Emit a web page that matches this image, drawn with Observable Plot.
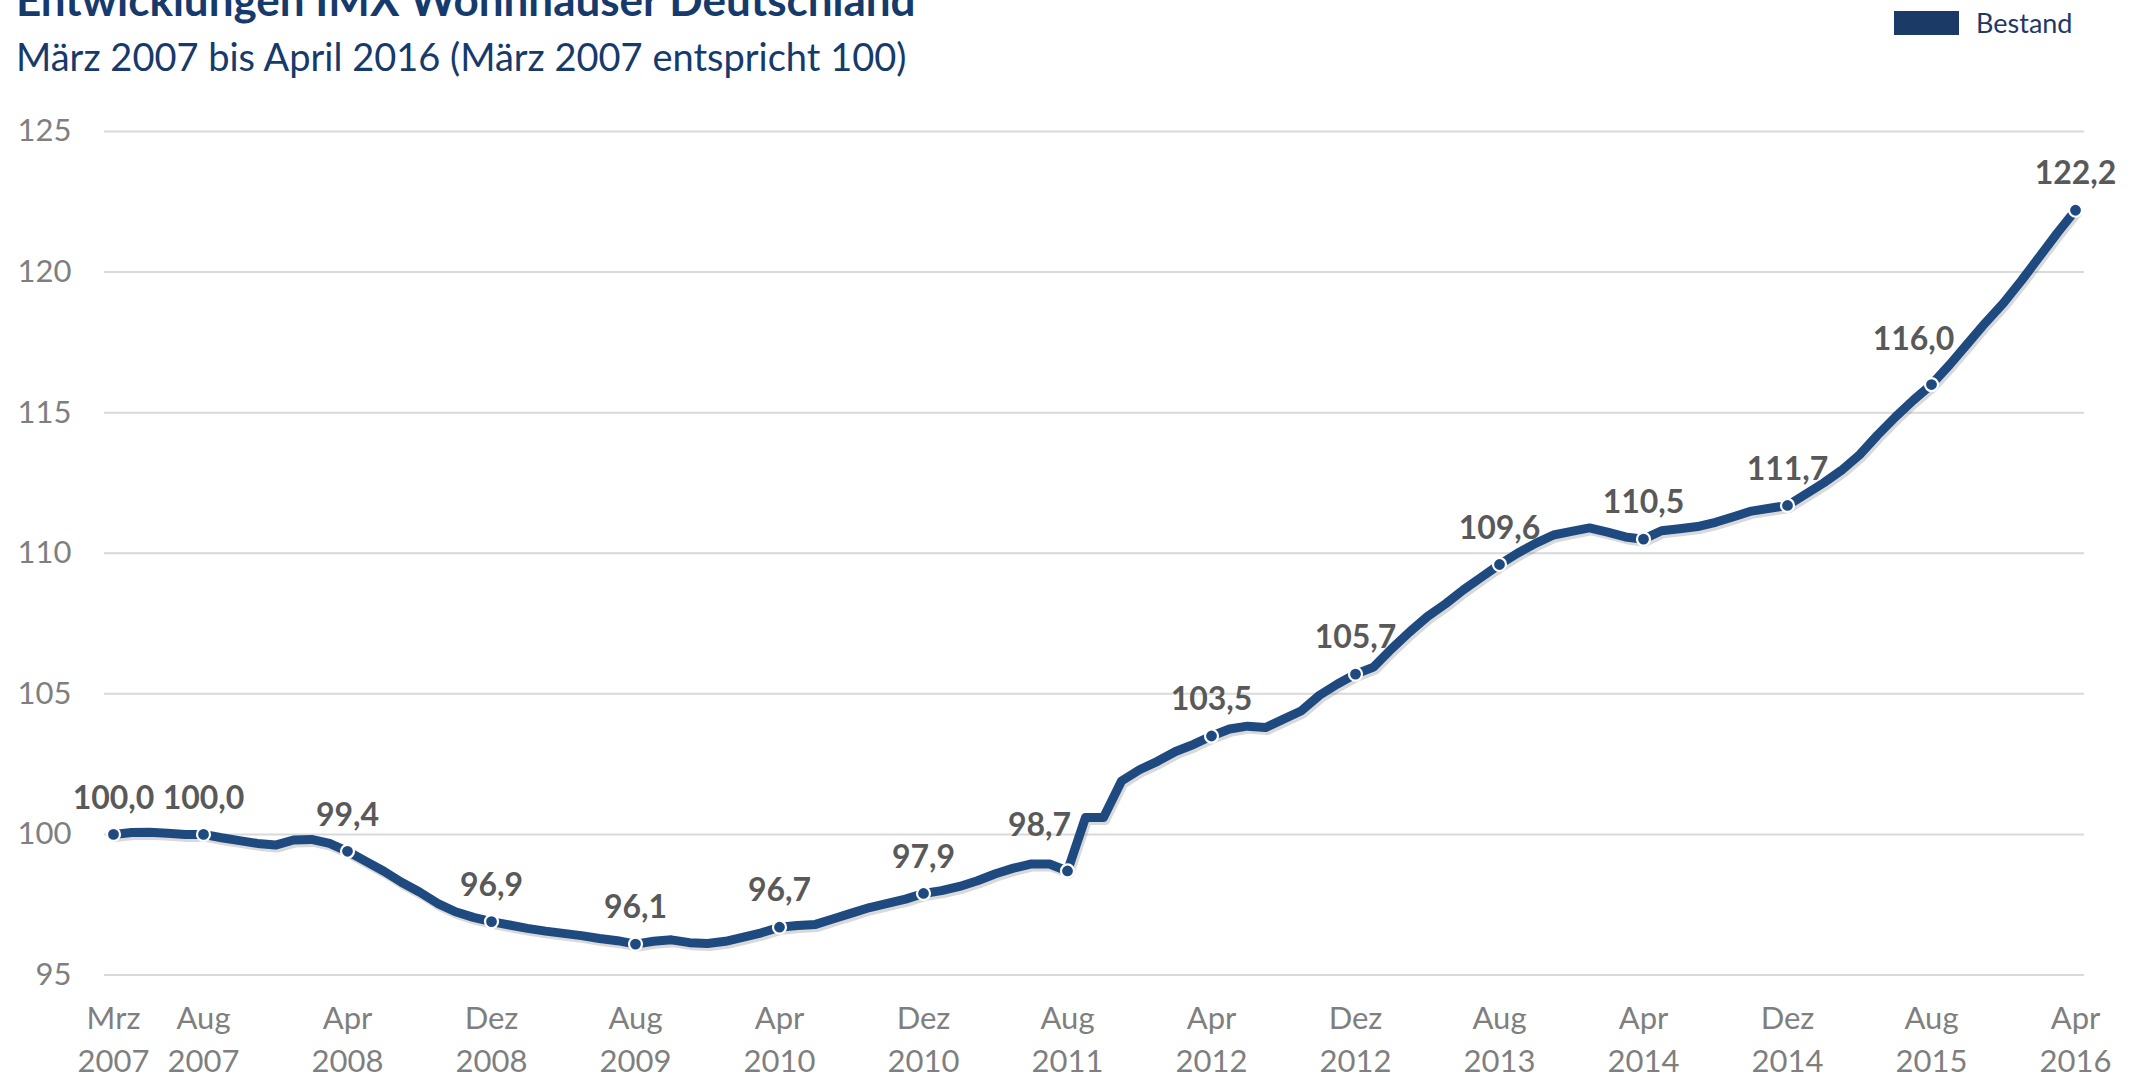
<!DOCTYPE html>
<html>
<head>
<meta charset="utf-8">
<script src="https://cdn.jsdelivr.net/npm/d3@7"></script>
<script src="https://cdn.jsdelivr.net/npm/@observablehq/plot@0.6"></script>
<style>
  html, body { margin: 0; padding: 0; background: #ffffff; }
  body { position: relative; width: 2134px; height: 1081px; overflow: hidden; font-family: Lato, "Open Sans", sans-serif; }
  #title { position: absolute; left: 16px; top: -23px; font-size: 44px; line-height: 44px; font-weight: 700; color: #163a6b; white-space: nowrap; }
  #subtitle { position: absolute; left: 16px; top: 34px; font-size: 38px; line-height: 44px; color: #163a6b; white-space: nowrap; }
  #legend { position: absolute; left: 1894px; top: 9px; display: flex; align-items: center; }
  #legend .sw { width: 65px; height: 24px; background: #1b3a66; }
  #legend .lb { margin-left: 17px; font-size: 27px; line-height: 27px; color: #1f3864; }
  #chart { position: absolute; left: 0; top: 90px; }
</style>
</head>
<body>
<div id="title">Entwicklungen IMX Wohnhäuser Deutschland</div>
<div id="subtitle">März 2007 bis April 2016 (März 2007 entspricht 100)</div>
<div id="legend"><div class="sw"></div><div class="lb">Bestand</div></div>
<div id="chart"></div>
<script>
// Series: monthly index values, März 2007 (index 0) … April 2016 (index 109)
const seriesName = "Bestand";
const monthNames = ["Jan","Feb","Mrz","Apr","Mai","Jun","Jul","Aug","Sep","Okt","Nov","Dez"];
const startYear = 2007;
const startMonth = 2; // März
const values = [
  100.0, 100.07, 100.08, 100.04, 100.0, 100.0, 99.88, 99.78, 99.68, 99.62,   // 0-9
  99.8, 99.82, 99.68, 99.4, 99.05, 98.7, 98.3, 97.95, 97.55, 97.25,          // 10-19
  97.05, 96.9, 96.78, 96.66, 96.56, 96.48, 96.4, 96.3, 96.22, 96.1,          // 20-29
  96.2, 96.25, 96.15, 96.12, 96.2, 96.35, 96.5, 96.7, 96.76, 96.8,           // 30-39
  97.0, 97.2, 97.4, 97.55, 97.7, 97.9, 98.0, 98.15, 98.35, 98.6,             // 40-49
  98.8, 98.95, 98.95, 98.7, 100.6, 100.6, 101.9, 102.3, 102.6, 102.95,       // 50-59
  103.2, 103.5, 103.75, 103.85, 103.8, 104.1, 104.4, 104.95, 105.35, 105.7,  // 60-69
  105.95, 106.6, 107.2, 107.75, 108.2, 108.7, 109.15, 109.6, 110.0, 110.35,  // 70-79
  110.65, 110.78, 110.9, 110.75, 110.58, 110.5, 110.8, 110.87, 110.95, 111.1, // 80-89
  111.3, 111.5, 111.6, 111.7, 112.1, 112.5, 112.95, 113.5, 114.2, 114.85,    // 90-99
  115.45, 116.0, 116.7, 117.45, 118.2, 118.9, 119.7, 120.55, 121.4, 122.2    // 100-109
];
// Labelled months (also the x-axis categories)
const labelledMonths = [0, 5, 13, 21, 29, 37, 45, 53, 61, 69, 77, 85, 93, 101, 109];
const yTicks = [95, 100, 105, 110, 115, 120, 125];

const monthLabel = i => {
  const m = (startMonth + i) % 12;
  const y = startYear + Math.floor((startMonth + i) / 12);
  return monthNames[m] + "\n" + y;
};
const fmt = v => v.toFixed(1).replace(".", ",");

const data = values.map((v, i) => ({i, v}));
const points = labelledMonths.map(i => ({i, v: values[i], label: fmt(values[i])}));
// two labels nudged left in the original to clear the line
const nudged = new Set([53, 101]);

const navy = "#1f4a80";
const chart = Plot.plot({
  width: 2134,
  height: 991,
  marginTop: 41,
  marginBottom: 106.5,
  marginLeft: 104,
  marginRight: 50,
  style: {fontFamily: "Lato, 'Open Sans', sans-serif", background: "transparent", overflow: "visible"},
  x: {type: "linear", domain: [-0.5, values.length - 0.5], axis: null},
  y: {domain: [95, 125], axis: null},
  marks: [
    Plot.gridY(yTicks, {stroke: "#d9d9d9", strokeOpacity: 1, strokeWidth: 2}),
    Plot.axisY(yTicks, {tickSize: 0, tickPadding: 33, fontSize: 31, color: "#7f7f7f", label: null}),
    Plot.axisX(labelledMonths, {tickSize: 0, tickPadding: 23, fontSize: 31, color: "#7f7f7f", lineHeight: 1.4, tickFormat: monthLabel, label: null}),
    Plot.line(data, {x: "i", y: "v", stroke: "#808080", strokeOpacity: 0.3, strokeWidth: 9, dx: 2, dy: 3, strokeLinejoin: "round", strokeLinecap: "round"}),
    Plot.line(data, {x: "i", y: "v", stroke: navy, strokeWidth: 9, strokeLinejoin: "round", strokeLinecap: "round"}),
    Plot.dot(points, {x: "i", y: "v", r: 6.5, fill: navy, stroke: "white", strokeWidth: 2.2}),
    Plot.text(points.filter(d => !nudged.has(d.i)), {x: "i", y: "v", text: "label", dy: -36, fontSize: 32, fontWeight: 700, fill: "#595959"}),
    Plot.text(points.filter(d => d.i === 53), {x: "i", y: "v", text: "label", dx: -28, dy: -45, fontSize: 32, fontWeight: 700, fill: "#595959"}),
    Plot.text(points.filter(d => d.i === 101), {x: "i", y: "v", text: "label", dx: -18, dy: -45, fontSize: 32, fontWeight: 700, fill: "#595959"})
  ]
});
document.getElementById("chart").appendChild(chart);
</script>
</body>
</html>
